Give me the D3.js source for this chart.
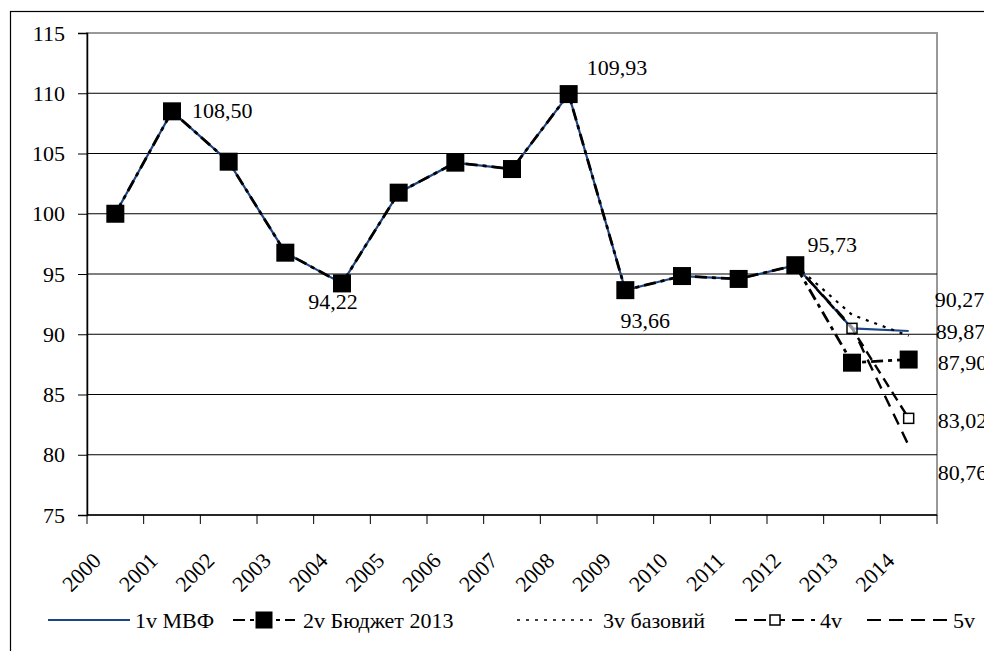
<!DOCTYPE html>
<html>
<head>
<meta charset="utf-8">
<script src="https://cdn.jsdelivr.net/npm/d3@7"></script>
<style>
  body { margin: 0; background: #fff; }
  svg { display: block; }
  svg text { font-family: "Liberation Serif", "Times New Roman", serif; }
</style>
</head>
<body>
<svg id="chart" width="984" height="651"></svg>
<script>
const years = ["2000", "2001", "2002", "2003", "2004", "2005", "2006", "2007", "2008", "2009", "2010", "2011", "2012", "2013", "2014"];
const v1 = [100, 108.5, 104.32, 96.77, 94.22, 101.75, 104.24, 103.71, 109.93, 93.66, 94.83, 94.59, 95.73, 90.49, 90.27];
const v2 = [100, 108.5, 104.32, 96.77, 94.22, 101.75, 104.24, 103.71, 109.93, 93.66, 94.83, 94.59, 95.73, 87.64, 87.9];
const v3 = [null, null, null, null, null, null, null, null, null, null, null, null, 95.73, 91.62, 89.87];
const v4 = [null, null, null, null, null, null, null, null, null, null, null, null, 95.73, 90.49, 83.02];
const v5 = [null, null, null, null, null, null, null, null, null, null, null, null, 95.73, 90.6, 80.76];
const yTicks = [75, 80, 85, 90, 95, 100, 105, 110, 115];
const seriesNames = ["1v МВФ", "2v Бюджет 2013", "3v базовий", "4v", "5v"];

const svg = d3.select("#chart");
const plot = { left: 87, right: 937, top: 33, bottom: 515 };
const font = "Liberation Serif";
const fmt = v => d3.format(".2f")(v).replace(".", ",");

const x = d3.scaleBand().domain(years).range([plot.left, plot.right]);
const y = d3.scaleLinear().domain([75, 115]).range([plot.bottom, plot.top]);
const cx = yr => x(yr) + x.bandwidth() / 2;

// outer chart frame
svg.append("rect").attr("x", 10.5).attr("y", 11.5).attr("width", 1100).attr("height", 800)
  .attr("fill", "none").attr("stroke", "#000").attr("stroke-width", 1.2);

// plot area frame
svg.append("rect").attr("x", plot.left).attr("y", plot.top)
  .attr("width", plot.right - plot.left).attr("height", plot.bottom - plot.top)
  .attr("fill", "none").attr("stroke", "#999").attr("stroke-width", 2);

// gridlines
svg.append("g").selectAll("line").data(yTicks.filter(t => t > 75 && t < 115)).join("line")
  .attr("x1", plot.left).attr("x2", plot.right).attr("y1", d => y(d)).attr("y2", d => y(d))
  .attr("stroke", "#000").attr("stroke-width", 1);

// y axis
const yAxis = svg.append("g").attr("transform", `translate(${plot.left},0)`)
  .call(d3.axisLeft(y).tickValues(yTicks).tickSize(9).tickPadding(13));
yAxis.attr("font-family", font);
yAxis.select(".domain").attr("stroke", "#000").attr("stroke-width", 1.5);
yAxis.selectAll("line").attr("stroke", "#000");
yAxis.selectAll("text").attr("font-size", 22).attr("font-family", font).attr("fill", "#000");

// x axis: ticks on category boundaries
const xg = svg.append("g");
xg.append("line").attr("x1", plot.left).attr("x2", plot.right).attr("y1", plot.bottom).attr("y2", plot.bottom)
  .attr("stroke", "#000").attr("stroke-width", 1.5);
xg.selectAll(".tk").data(years.concat(["end"])).join("line").attr("class", "tk")
  .attr("x1", (d, i) => plot.left + i * x.bandwidth()).attr("x2", (d, i) => plot.left + i * x.bandwidth())
  .attr("y1", plot.bottom).attr("y2", plot.bottom + 9).attr("stroke", "#000");
xg.selectAll(".lb").data(years).join("text").attr("class", "lb")
  .attr("transform", d => `translate(${cx(d) - 13},${plot.bottom + 47}) rotate(-45)`)
  .attr("text-anchor", "end").attr("font-family", font).attr("font-size", 22).text(d => d);

// lines
const line = d3.line().defined(d => d[1] != null).x(d => cx(d[0])).y(d => y(d[1]));
const pts = vals => years.map((yr, i) => [yr, vals[i]]);

svg.append("path").datum(pts(v1)).attr("d", line)
  .attr("fill", "none").attr("stroke", "#1c4587").attr("stroke-width", 2.2);
svg.append("path").datum(pts(v3)).attr("d", line)
  .attr("fill", "none").attr("stroke", "#000").attr("stroke-width", 2.2).attr("stroke-dasharray", "3,6");
svg.append("path").datum(pts(v4)).attr("d", line)
  .attr("fill", "none").attr("stroke", "#000").attr("stroke-width", 2.4).attr("stroke-dasharray", "10,6");
svg.append("path").datum(pts(v5)).attr("d", line)
  .attr("fill", "none").attr("stroke", "#000").attr("stroke-width", 2.4).attr("stroke-dasharray", "12,8");
svg.append("path").datum(pts(v2)).attr("d", line)
  .attr("fill", "none").attr("stroke", "#000").attr("stroke-width", 2.8).attr("stroke-dasharray", "12,5,4,5");

// 4v hollow markers
svg.append("g").selectAll("rect").data(pts(v4).slice(13)).join("rect")
  .attr("x", d => cx(d[0]) - 5).attr("y", d => y(d[1]) - 5).attr("width", 10).attr("height", 10)
  .attr("fill", "#fff").attr("fill-opacity", 0.6).attr("stroke", "#000").attr("stroke-width", 1.5);

// 2v filled markers
svg.append("g").selectAll("rect").data(pts(v2)).join("rect")
  .attr("x", d => cx(d[0]) - 9).attr("y", d => y(d[1]) - 9).attr("width", 18).attr("height", 18)
  .attr("fill", "#000");

// data labels
const labels = [
  { yr: "2001", v: v2[1], dx: 20, dy: -1, anchor: "start" },
  { yr: "2004", v: v2[4], dx: -9, dy: 18, anchor: "middle" },
  { yr: "2008", v: v2[8], dx: 18, dy: -27, anchor: "start" },
  { yr: "2009", v: v2[9], dx: 20, dy: 30, anchor: "middle" },
  { yr: "2012", v: v2[12], dx: 37, dy: -21, anchor: "middle" },
  { yr: "2014", v: v1[14], dx: 26, dy: -31, anchor: "start" },
  { yr: "2014", v: v3[14], dx: 27, dy: -4, anchor: "start" },
  { yr: "2014", v: v2[14], dx: 29, dy: 3, anchor: "start" },
  { yr: "2014", v: v4[14], dx: 29, dy: 2, anchor: "start" },
  { yr: "2014", v: v5[14], dx: 29, dy: 27, anchor: "start" }
];
svg.append("g").selectAll("text").data(labels).join("text")
  .attr("x", d => cx(d.yr) + d.dx).attr("y", d => y(d.v) + d.dy)
  .attr("text-anchor", d => d.anchor).attr("dominant-baseline", "central")
  .attr("font-family", font).attr("font-size", 22).text(d => fmt(d.v));

// legend
const legY = 620;
const leg = svg.append("g");
const items = [
  { x1: 48, x2: 130, stroke: "#1c4587", dash: null, w: 2.2, tx: 135 },
  { x1: 233, x2: 295, stroke: "#000", dash: "12,5,4,5", w: 2.2, tx: 303, mark: "fill" },
  { x1: 517, x2: 592, stroke: "#000", dash: "3,6", w: 1.6, tx: 603 },
  { x1: 735, x2: 815, stroke: "#000", dash: "12,7", w: 2, tx: 820, mark: "hollow" },
  { x1: 867, x2: 948, stroke: "#000", dash: "14,8", w: 2, tx: 953 }
];
items.forEach((it, i) => {
  leg.append("line").attr("x1", it.x1).attr("x2", it.x2).attr("y1", legY).attr("y2", legY)
    .attr("stroke", it.stroke).attr("stroke-width", it.w).attr("stroke-dasharray", it.dash);
  const mx = (it.x1 + it.x2) / 2;
  if (it.mark === "fill") {
    leg.append("rect").attr("x", mx - 8.5).attr("y", legY - 8.5).attr("width", 17).attr("height", 17).attr("fill", "#000");
  } else if (it.mark === "hollow") {
    leg.append("rect").attr("x", mx - 5).attr("y", legY - 5).attr("width", 10).attr("height", 10)
      .attr("fill", "#fff").attr("stroke", "#000").attr("stroke-width", 1.5);
  }
  leg.append("text").attr("x", it.tx).attr("y", legY).attr("dominant-baseline", "central")
    .attr("font-family", font).attr("font-size", 22).text(seriesNames[i]);
});
</script>
</body>
</html>
